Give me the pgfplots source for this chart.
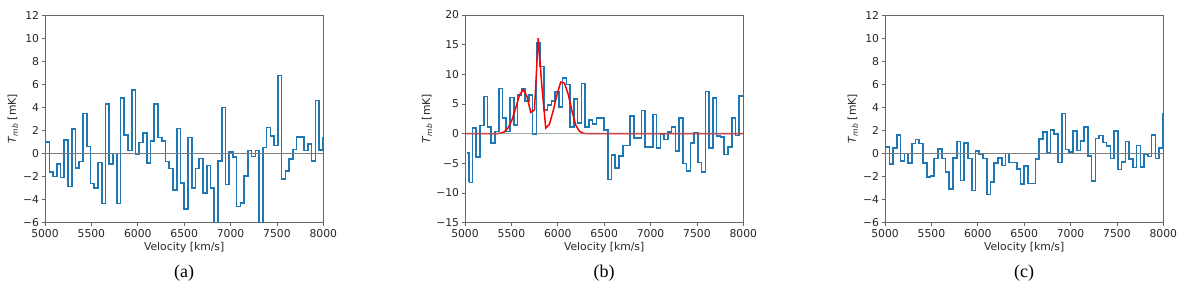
\documentclass[border=0pt]{standalone}
\usepackage{fontspec}
\setmainfont{DejaVu Sans}
\newfontfamily\capfont{Liberation Serif}
\usepackage{pgfplots}
\pgfplotsset{compat=1.18}
\usepackage{pgfplotstable}
\definecolor{mplblue}{HTML}{1F77B4}
\definecolor{zerogray}{HTML}{808080}

% panel (a): bins of 40.4 km/s starting at 4965.6 km/s
\pgfplotstableread{
y
1.0
1.0
-1.6
-2.0
-0.9
-2.1
1.15
-2.85
2.1
-1.25
-0.7
3.45
0.6
-2.6
-3.0
-0.8
-4.35
4.3
-0.9
0.0
-4.35
4.8
1.6
0.25
5.5
-0.05
0.95
1.75
-0.85
1.1
4.3
1.4
1.1
-0.7
-1.3
-3.15
2.15
-2.55
-4.8
1.4
-3.0
-1.3
-0.45
-3.4
-1.05
-3.0
-6.5
-0.65
4.0
-2.7
0.15
-0.3
-4.6
-4.3
-1.95
0.25
-0.25
0.25
-6.5
0.5
2.25
1.5
0.7
6.75
-2.2
-1.5
-0.5
0.35
1.45
1.45
0.25
0.8
-0.65
4.6
0.3
1.4
1.4
}\dataA

% panel (b): bins of 40.5 km/s starting at 5040 km/s
\pgfplotstableread{
y
-8.2
1.0
-3.9
1.35
6.3
1.1
-1.55
0.4
7.6
2.6
0.4
6.1
1.5
6.55
7.5
5.55
6.55
-0.1
15.3
11.3
4.0
4.85
5.55
7.05
4.5
9.4
8.3
1.1
5.8
1.8
8.45
1.1
2.35
1.65
2.6
2.65
0.6
-7.7
-3.6
-5.8
-3.8
-2.0
-2.0
2.95
-0.7
-0.7
3.9
-2.2
-2.2
3.2
-2.4
-0.1
-0.95
0.3
1.1
-2.9
2.65
-5.0
-6.3
-1.55
0.1
-4.85
-6.5
7.1
-2.4
6.0
-0.4
-0.55
-3.5
-2.2
2.65
-0.3
6.4
6.4
6.4
}\dataB

% panel (c): bins of 40.4 km/s starting at 4965.6 km/s
\pgfplotstableread{
y
-3.0
0.58
-0.9
0.45
1.6
-0.65
0.0
-0.85
0.85
1.2
0.85
-0.85
-2.05
-1.95
-0.45
0.4
-0.45
-1.6
-3.1
-0.4
1.05
-2.35
0.9
-0.45
-3.2
0.2
-0.1
-0.45
-3.55
-2.45
-0.85
-0.4
-1.05
0.0
-0.8
-0.8
-1.35
-2.65
-1.1
-2.6
-2.6
-0.5
1.25
1.85
0.1
2.05
1.7
-0.8
3.45
0.35
0.15
1.95
0.25
1.1
2.3
-0.2
-2.4
1.3
1.55
0.95
0.65
-0.45
1.95
-1.4
-0.75
1.05
-0.5
-1.2
0.7
-1.15
-0.05
-0.25
1.6
-0.45
0.45
3.45
3.45
}\dataC

\pgfplotsset{
  spec/.style={
    scale only axis, width=278.3pt, height=207.7pt,
    anchor=south west,
    xmin=5000, xmax=8000,
    xtick={5000,5500,6000,6500,7000,7500,8000},
    xticklabels={5000,5500,6000,6500,7000,7500,8000},
    tick align=outside, tick pos=left,
    major tick length=3.5pt,
    tick style={black!60, line width=0.8pt},
    axis line style={black!60, line width=0.9pt},
    tick label style={font=\fontsize{10.8}{12}\selectfont, text=black!85},
    label style={font=\fontsize{10.8}{12}\selectfont, text=black!85},
    xticklabel style={anchor=base, inner sep=0pt, yshift=-11.6pt},
    yticklabel style={inner xsep=2.2pt, inner ysep=0pt},
    xlabel={Velocity [km/s]},
    xlabel style={at={(axis description cs:0.5,0)}, anchor=base, yshift=-27.3pt},
    ylabel={\textit{T}\textsubscript{\textit{mb}} [mK]},
    clip mode=individual,
  },
}
\tikzset{
  capnode/.style={font=\capfont\fontsize{18}{20}\selectfont, anchor=base},
  blueline/.style={mplblue, line width=1.6pt, line join=miter, line cap=butt},
}

\begin{document}
\begin{tikzpicture}
\useasboundingbox (0,0) rectangle (1200pt,287pt);

% ---------------- (a)
\begin{axis}[spec, at={(45pt,64.3pt)},
  ymin=-6, ymax=12, ytick={-6,-4,...,12},
  yticklabels={−6,−4,−2,0,2,4,6,8,10,12},
  ylabel style={at={(axis description cs:-0.116,0.5)}, anchor=center}]
\addplot[const plot, blueline] table[x expr=4965.6+40.4*\coordindex, y index=0] {\dataA};
\addplot[zerogray, line width=1.6pt] coordinates {(5000,0) (8000,0)};
\node[capnode] at (rel axis cs:0.5,-0.264) {(a)};
\end{axis}

% ---------------- (b)
\begin{axis}[spec, at={(465pt,64.3pt)},
  ymin=-15, ymax=20, ytick={-15,-10,...,20},
  yticklabels={−15,−10,−5,0,5,10,15,20},
  ylabel style={at={(axis description cs:-0.136,0.5)}, anchor=center}]
\addplot[blueline] coordinates {(5018,-3.3) (5040,-3.3) (5040,-8.2)};
\addplot[const plot, blueline] table[x expr=5040+40.5*\coordindex, y index=0] {\dataB};
\addplot[red, line width=1.5pt] coordinates {
 (5000,0) (5343.75,0) (5384.25,0.1) (5424.75,0.3) (5465.25,1.0) (5505.75,2.3)
 (5546.25,4.3) (5586.75,6.5) (5627.25,7.4) (5667.75,6.3) (5708.25,3.6)
 (5748.75,4.0) (5789.25,16.1) (5829.75,7.8) (5870.25,0.95) (5910.75,1.6)
 (5951.25,3.9) (5991.75,6.6) (6032.25,8.7) (6072.75,8.5) (6113.25,6.6)
 (6153.75,3.8) (6194.25,1.4) (6234.75,0.4) (6275.25,0.08) (6315.75,0) (8000,0)};
\addplot[zerogray, line width=1.6pt, opacity=0.7] coordinates {(5000,0) (8000,0)};
\node[capnode] at (rel axis cs:0.5,-0.264) {(b)};
\end{axis}

% ---------------- (c)
\begin{axis}[spec, at={(885pt,64.3pt)},
  ymin=-6, ymax=12, ytick={-6,-4,...,12},
  yticklabels={−6,−4,−2,0,2,4,6,8,10,12},
  ylabel style={at={(axis description cs:-0.116,0.5)}, anchor=center}]
\addplot[const plot, blueline] table[x expr=4965.6+40.4*\coordindex, y index=0] {\dataC};
\addplot[zerogray, line width=1.6pt] coordinates {(5000,0) (8000,0)};
\node[capnode] at (rel axis cs:0.5,-0.264) {(c)};
\end{axis}
\end{tikzpicture}
\end{document}
